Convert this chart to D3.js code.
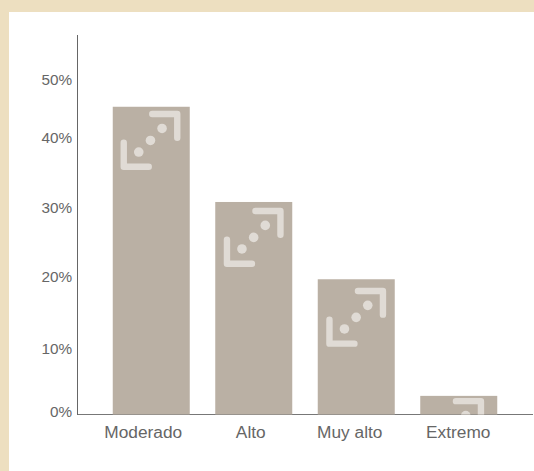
<!DOCTYPE html>
<html><head><meta charset="utf-8">
<style>html,body{margin:0;padding:0;background:#fff}svg{display:block}
text{font-family:"Liberation Sans",Arial,sans-serif;fill:#666}</style>
<script src="https://cdn.jsdelivr.net/npm/d3@7"></script></head>
<body><script>
const categories = ["Moderado","Alto","Muy alto","Extremo"];
const values = [44.6,30.8,19.6,2.7];
const tickValues = [0,10,20,30,40,50];
const W=534,H=471;
const svg=d3.select("body").append("svg").attr("width",W).attr("height",H);
svg.append("rect").attr("width",W).attr("height",H).attr("fill","#eddfc0");
svg.append("rect").attr("x",9).attr("y",12).attr("width",W-9).attr("height",H-12).attr("fill","#fff");
const y=d3.scaleLinear().domain([0,50]).range([414.5,69.5]);
const x=d3.scaleBand().domain(categories).range([100,510]).paddingInner(0.2488).paddingOuter(0.1244);
const iconShift=[[0,0],[0.7,1.7],[0.7,4.4],[-3.8,-2]];
const labelShift=[-8,-3,-6.5,-0.5];
const labelNudge={0:-3,10:2.5,20:0,30:0,40:-1,50:10};
const defs=svg.append("defs");
const iconColor="#e0dbd5";
categories.forEach((c,i)=>{
  const g=svg.append("g");
  const bx=x(c),bw=x.bandwidth(),by=y(values[i]),bh=y(0)-by;
  defs.append("clipPath").attr("id","c"+i).append("rect").attr("x",bx).attr("y",by).attr("width",bw).attr("height",bh);
  g.append("rect").attr("x",bx).attr("y",by).attr("width",bw).attr("height",bh).attr("fill","#bab0a4");
  const ic=g.append("g").attr("clip-path",`url(#c${i})`)
    .append("g").attr("transform",`translate(${bx+iconShift[i][0]},${by+iconShift[i][1]})`);
  ic.append("path").attr("d","M39.5 7.3H64.5V31").attr("fill","none").attr("stroke",iconColor).attr("stroke-width",6.4).attr("stroke-linecap","round").attr("stroke-linejoin","round");
  ic.append("path").attr("d","M11 36V60H36").attr("fill","none").attr("stroke",iconColor).attr("stroke-width",6.4).attr("stroke-linecap","round").attr("stroke-linejoin","round");
  [[26,45.3],[37.7,33.7],[49.3,21.7]].forEach(d=>ic.append("circle").attr("cx",d[0]).attr("cy",d[1]).attr("r",4.8).attr("fill",iconColor));
});
svg.append("line").attr("x1",77.5).attr("x2",77.5).attr("y1",35).attr("y2",415).attr("stroke","#666").attr("stroke-width",1);
const axisX=svg.append("g").attr("transform","translate(0,414.5)").call(d3.axisBottom(x).tickSize(0).tickPadding(11));
axisX.select(".domain").remove();
svg.insert("line","g").attr("x1",77).attr("x2",533).attr("y1",414.5).attr("y2",414.5).attr("stroke","#777");
axisX.selectAll("text").attr("font-size",17.3).attr("font-family",null).attr("dx",(d,i)=>labelShift[i]);
const axisY=svg.append("g").attr("transform","translate(77,0)").call(d3.axisLeft(y).tickValues(tickValues).tickFormat(d=>d+"%").tickSize(0).tickPadding(5));
axisY.select(".domain").remove();
axisY.selectAll("text").attr("font-size",15.3).attr("font-family",null).attr("dy",d=>(labelNudge[d]+5)+"px");
</script></body></html>
